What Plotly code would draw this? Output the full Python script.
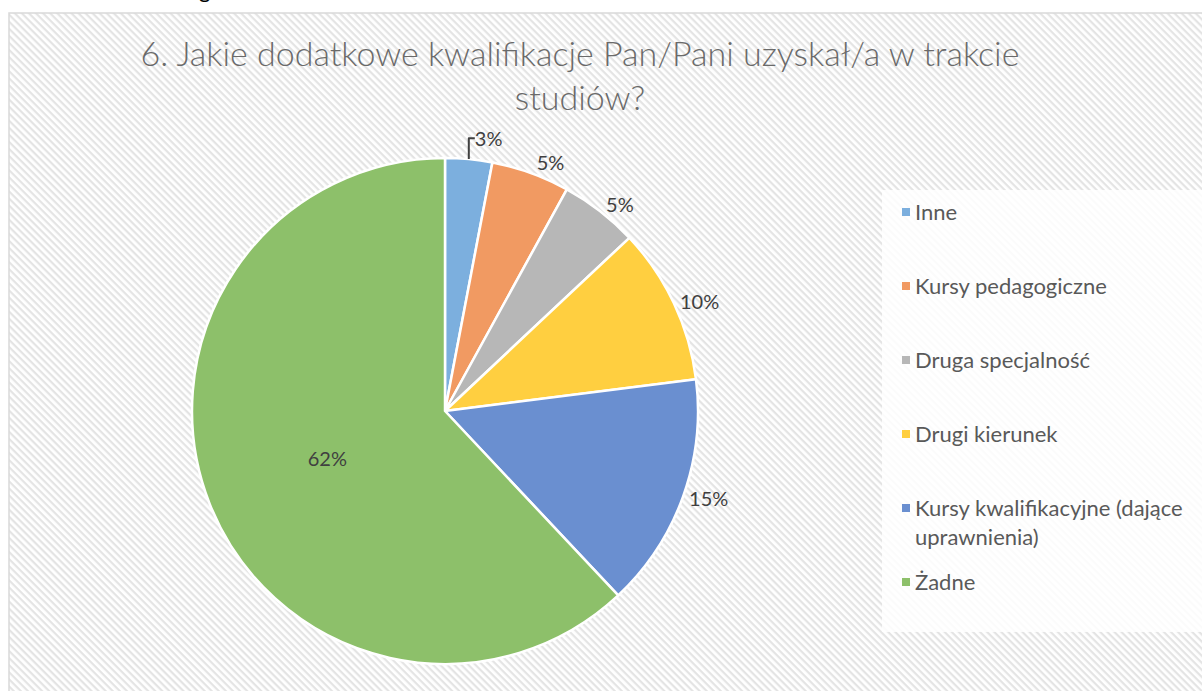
import base64
import plotly.graph_objects as go

labels = ["Inne", "Kursy pedagogiczne", "Druga specjalność", "Drugi kierunek",
          "Kursy kwalifikacyjne (dające uprawnienia)", "Żadne"]
values = [3, 5, 5, 10, 15, 62]
colors = ["#7cafde", "#f19a62", "#b7b7b7", "#ffcf40", "#6a8fd0", "#8dc06a"]
legend_text = ["Inne", "Kursy pedagogiczne", "Druga specjalność", "Drugi kierunek",
               "Kursy kwalifikacyjne (dające<br>uprawnienia)", "Żadne"]
title = "6. Jakie dodatkowe kwalifikacje Pan/Pani uzyskał/a w trakcie<br>studiów?"

W, H = 1202, 691

def px(x):
    return x / W

def py(y):
    return 1 - y / H

# hatched background like the Excel chart area
area_w, area_h = W - 9, H - 13
svg = f'''<svg xmlns="http://www.w3.org/2000/svg" width="{area_w}" height="{area_h}" preserveAspectRatio="none">
<defs><pattern id="p" width="5" height="5" patternUnits="userSpaceOnUse" patternTransform="rotate(45)">
<rect width="5" height="5" fill="#ffffff"/><rect width="5" height="2.2" fill="#e4e4e4"/></pattern></defs>
<rect width="{area_w}" height="{area_h}" fill="url(#p)"/></svg>'''
bg_src = "data:image/svg+xml;base64," + base64.b64encode(svg.encode()).decode()

label_font = dict(family="Lato", size=20, color="#404040")

fig = go.Figure(go.Pie(
    labels=labels,
    values=values,
    sort=False,
    direction="clockwise",
    rotation=0,
    marker=dict(colors=colors, line=dict(color="white", width=2.5)),
    texttemplate="%{percent:.0%}",
    textposition=["outside"] * 5 + ["inside"],
    textfont=label_font,
    insidetextfont=label_font,
    outsidetextfont=label_font,
    domain=dict(x=[px(192), px(698)], y=[py(664), py(158)]),
    showlegend=False,
    hoverinfo="label+percent",
))

shapes = [
    dict(type="rect", xref="paper", yref="paper", x0=px(9), x1=px(W + 2), y0=py(H + 2), y1=py(13),
         line=dict(color="#d9d9d9", width=1.5), layer="above"),
    dict(type="rect", xref="paper", yref="paper", x0=px(882), x1=px(W + 2), y0=py(632), y1=py(190),
         fillcolor="rgba(255,255,255,0.85)", line=dict(width=0), layer="below"),
]
annotations = [
    dict(text="g", x=px(197), y=1, xref="paper", yref="paper", yanchor="bottom", yshift=-5,
         showarrow=False, font=dict(family="Lato", size=22, color="#000000")),
]

legend_y = [212, 286, 360, 434, 508, 582]
for lab, col, ly in zip(legend_text, colors, legend_y):
    shapes.append(dict(type="rect", xref="paper", yref="paper", x0=px(902), x1=px(910),
                       y0=py(ly + 4), y1=py(ly - 4), fillcolor=col, line=dict(width=0)))
    annotations.append(dict(text=lab, x=px(913), y=py(ly - 16), xref="paper", yref="paper",
                            xanchor="left", yanchor="top", align="left", showarrow=False,
                            font=dict(family="Lato", size=22, color="#595959")))

fig.update_layout(
    width=W, height=H,
    margin=dict(l=0, r=0, t=0, b=0),
    paper_bgcolor="white",
    plot_bgcolor="white",
    title=dict(text=title, x=px(580), xanchor="center", y=py(66), yanchor="top",
               font=dict(family="Lato", size=34, color="#6a6a6a", weight=300)),
    images=[dict(source=bg_src, xref="paper", yref="paper", x=px(9), y=py(13),
                 sizex=px(area_w), sizey=area_h / H, sizing="stretch", layer="below",
                 xanchor="left", yanchor="top")],
    shapes=shapes,
    annotations=annotations,
)

fig.write_html("out.html", config={"displayModeBar": False},
               post_script="document.body.style.margin='0';")
